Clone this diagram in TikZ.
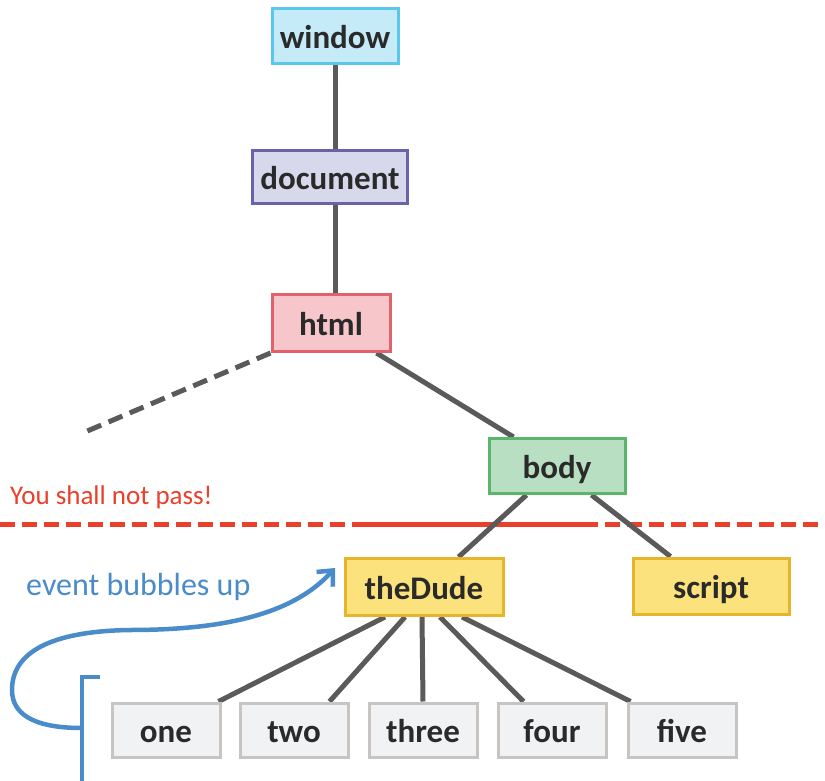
\documentclass[tikz,border=0pt]{standalone}
\usepackage{fontspec}
\setmainfont{Carlito}
\usetikzlibrary{arrows.meta,calc}
\pgfdeclarelayer{bg}
\pgfsetlayers{bg,main}
\definecolor{winfill}{HTML}{C5EBF9}\definecolor{windraw}{HTML}{5AC8EE}
\definecolor{docfill}{HTML}{D8D8EC}\definecolor{docdraw}{HTML}{6A62A8}
\definecolor{htmlfill}{HTML}{F6C6CA}\definecolor{htmldraw}{HTML}{E0636B}
\definecolor{bodyfill}{HTML}{B8DFC2}\definecolor{bodydraw}{HTML}{5BB56B}
\definecolor{yelfill}{HTML}{FBE27C}\definecolor{yeldraw}{HTML}{E6B52A}
\definecolor{leaffill}{HTML}{F0F2F4}\definecolor{leafdraw}{HTML}{C8C4C2}
\definecolor{linegray}{HTML}{5A5A5A}
\definecolor{passred}{HTML}{E8402A}
\definecolor{bubbleblue}{HTML}{4A8CCA}
\definecolor{txt}{HTML}{2A2A2A}
\tikzset{
  box/.style={draw, line width=3pt, inner sep=0pt, text=txt,
    font=\fontsize{33}{38}\selectfont\bfseries, minimum height=55pt,
    text height=29pt, text depth=4pt},
  edge/.style={draw=linegray, line width=5pt},
  leaf/.style={box, fill=leaffill, draw=leafdraw, minimum width=108pt, minimum height=54pt},
  yel/.style={box, fill=yelfill, draw=yeldraw}
}
\begin{document}
\begin{tikzpicture}[x=1pt,y=-1pt]
\begin{pgfonlayer}{bg}
\fill[white] (0,0) rectangle (825,781);
\end{pgfonlayer}
\useasboundingbox (0,0) rectangle (825,781);

\node[box, fill=winfill, draw=windraw, minimum width=126pt] (window) at (335,36.5) {window};
\node[box, fill=docfill, draw=docdraw, minimum width=155pt, minimum height=53pt] (document) at (330,177) {document};
\node[box, fill=htmlfill, draw=htmldraw, minimum width=118pt, minimum height=57pt] (html) at (331,323) {html};
\node[box, fill=bodyfill, draw=bodydraw, minimum width=136pt] (body) at (557,466) {body};
\node[yel, minimum width=158pt, minimum height=57pt] (dude) at (424,587) {theDude};
\node[yel, minimum width=156pt, minimum height=56pt] (script) at (711,586) {script};
\node[leaf] (one) at (166,730) {one};
\node[leaf] (two) at (294,730) {two};
\node[leaf] (three) at (423,730) {three};
\node[leaf] (four) at (552,730) {four};
\node[leaf] (five) at (682,730) {five};

\coordinate (dashend) at (85,432);

% the line that must not be passed
\coordinate (redA) at (0,524);
\coordinate (redB) at (357,524);
\coordinate (redC) at (590,524);
\coordinate (redD) at (825,524);

\begin{pgfonlayer}{bg}
\draw[passred, line width=5pt, dash pattern=on 15pt off 7pt] (redA) -- (redB);
\draw[passred, line width=5pt] (redB) -- (redC);
\draw[passred, line width=5pt, dash pattern=on 15pt off 7pt, dash phase=7pt] (redC) -- (redD);
\draw[edge] (window.center) -- (window.center |- document.center);
\draw[edge] ([xshift=5pt]document.center) -- ([xshift=5pt]document.center |- html.center);
\draw[edge] ([xshift=-15pt]html.south east) -- ([xshift=26pt]body.north west);
\draw[edge, dash pattern=on 15pt off 8pt] (html.south west) -- (dashend);
\draw[edge] ([xshift=39pt]body.south west) -- ([xshift=-46pt]dude.north east);
\draw[edge] ([xshift=-35pt]body.south east) -- ([xshift=39pt]script.north west);
\draw[edge] ([xshift=-39pt]dude.south) -- ([xshift=-3pt]one.north east);
\draw[edge] ([xshift=-19pt]dude.south) -- ([xshift=-20pt]two.north east);
\draw[edge] ([xshift=-2pt]dude.south) -- (three.north);
\draw[edge] ([xshift=16pt]dude.south) -- ([xshift=27pt]four.north west);
\draw[edge] ([xshift=38pt]dude.south) -- ([xshift=4pt]five.north west);
\end{pgfonlayer}

\node[anchor=west, text=passred, font=\fontsize{27}{32}\selectfont, inner sep=0pt] (pass) at (10,497) {You shall not pass!};

% event bubbles up
\node[anchor=west, text=bubbleblue, font=\fontsize{32}{38}\selectfont, inner sep=0pt] (bubble) at (26,587) {event bubbles up};
\coordinate (brtop) at (82,677);
\coordinate (brtick) at (100,677);
\coordinate (brbot) at (82,781);
\coordinate (brmid) at (82,728);
\coordinate (tip) at (335,568);
\draw[bubbleblue, line width=4.5pt] (brtick) -- (brtop) -- (brbot);
\draw[bubbleblue, line width=4.5pt, -{Straight Barb[length=12pt,width=22pt,line width=4.5pt]}]
  (brmid) .. controls (30,728) and (12,712) .. (12,690)
  .. controls (12,648) and (60,631) .. (130,630)
  .. controls (230,630) and (295,612) .. (tip);
\end{tikzpicture}
\end{document}
